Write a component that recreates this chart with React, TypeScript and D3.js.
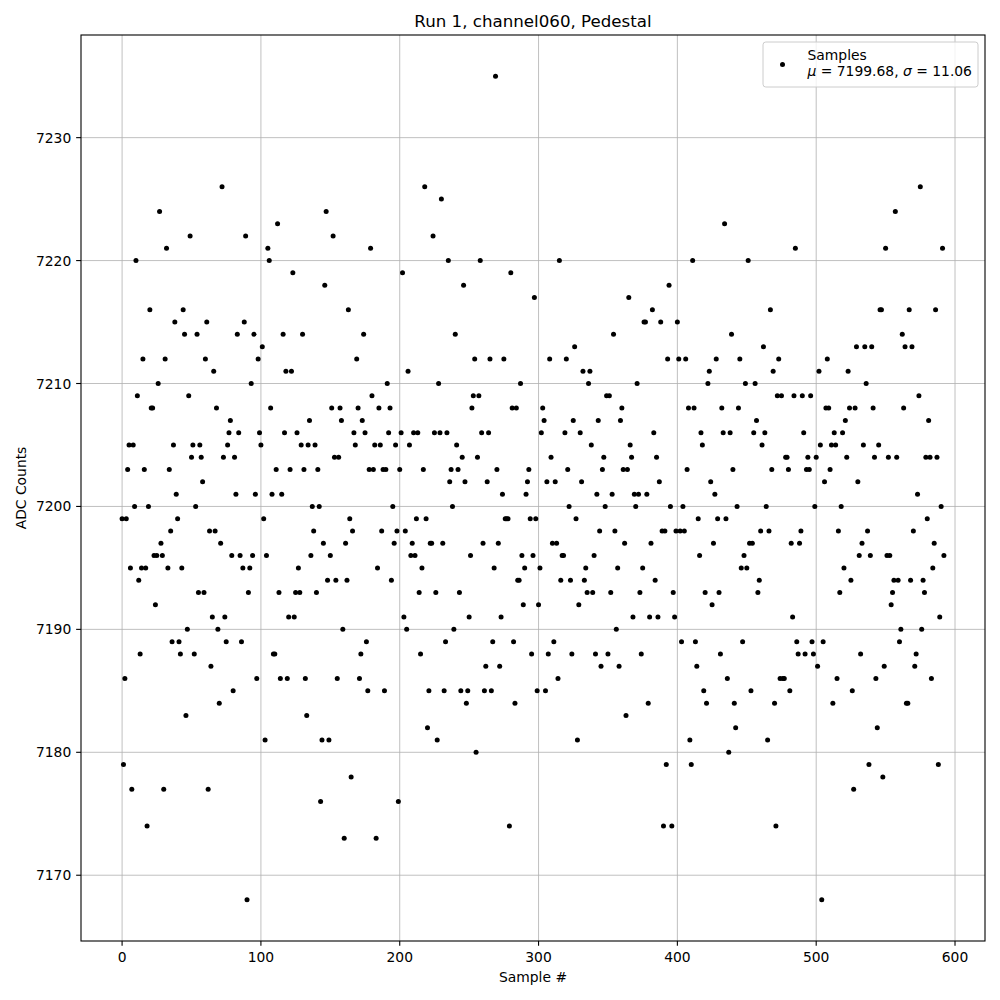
import React from "react";
import * as d3 from "d3";

// ADC counts for each sample (index = sample #)
const adcCounts: number[] = [
  7199,7179,7186,7199,7203,7205,7195,7177,7205,7200,
  7220,7209,7194,7188,7195,7212,7203,7195,7174,7200,
  7216,7208,7208,7196,7192,7196,7210,7224,7197,7196,
  7177,7212,7221,7195,7203,7198,7189,7205,7215,7201,
  7199,7189,7188,7195,7216,7214,7183,7190,
  7209,7222,7204,7205,7188,7200,7214,7193,7205,7204,7202,7193,7212,7215,7177,7198,7187,7191,7211,7198,
  7208,7190,7184,7197,7226,7204,7191,7189,7205,7206,7207,7196,7185,7204,7201,7214,7206,7196,7189,7195,
  7215,7222,7168,7193,7195,7210,7196,7214,7201,
  7186,7212,7206,7205,7213,7199,7181,7196,7221,7220,
  7208,7201,7188,7188,7203,7223,7193,7186,7201,7214,
  7206,7211,7186,7191,7203,7211,7219,7191,7193,7206,
  7195,7193,7205,7214,7203,7186,7183,7205,7207,7196,
  7200,7198,7205,7193,7203,7200,7176,7181,7197,7218,
  7224,7194,
  7181,7196,7208,7222,7204,7194,7186,7204,7208,7207,7190,7173,7197,7194,7216,7199,7178,7198,7206,7205,
  7212,7208,7186,7188,7207,7214,7206,7189,7185,7203,7221,7209,7203,7205,7173,7195,7208,7205,7198,7203,
  7185,7203,7210,7206,7208,7194,7200,7197,
  7205,7198,7176,7203,7206,7219,7191,7198,7190,7211,
  7205,7196,7197,7206,7196,7199,7206,7193,7188,7195,
  7203,7226,7199,7182,7185,7197,7197,7222,7206,7193,
  7181,7210,7206,7225,7197,7185,7189,7206,7220,7202,
  7203,7200,7190,7214,7205,7203,7193,7185,7204,7218,
  7202,7184,
  7185,7191,7196,7208,7209,7212,7180,7204,7209,7220,
  7206,7197,7185,7187,7202,7206,7212,7185,7189,7195,
  7235,7203,7197,7187,7191,7201,7212,7199,7199,7199,
  7174,7219,7208,7189,7184,7208,7194,7194,7210,7196,
  7192,7195,7201,7202,7203,7199,7188,7196,7217,7199,
  7185,7192,7195,7206,7208,7207,7185,7202,7188,7212,
  7204,7197,7189,7202,7197,7186,7220,7194,7196,7196,
  7206,7212,7203,7200,7194,7188,7207,7213,7199,7181,
  7192,7206,7202,7211,7194,7195,7193,7210,7211,7205,
  7193,7196,7188,7201,7207,7198,7187,7203,7204,7200,
  7209,
  7188,7209,7193,7201,7214,7198,7190,7195,7187,7207,
  7208,7203,7197,7183,7203,7217,7205,7204,7191,7201,
  7200,7210,7201,7193,7188,7195,7215,7215,7201,7184,
  7191,7197,7216,7206,7194,7204,7191,7202,7215,7198,
  7174,7198,7179,7212,7218,7200,7174,7193,7191,7198,
  7215,
  7212,7198,7189,7200,7198,7212,7203,7208,7181,7179,
  7220,7208,7189,7187,7199,7196,7206,7205,7185,7193,
  7184,7210,7211,7202,7192,7197,7201,7212,7199,7193,
  7188,7208,7206,7223,7199,7186,7180,7206,7214,7203,
  7184,7182,7200,7208,7212,7195,7189,7196,7210,7195,
  7220,
  7197,7185,7197,7206,7210,7207,7193,7194,7198,7205,
  7213,7206,7200,7181,7198,7216,7203,7211,7184,7174,
  7209,7212,7186,7209,7186,7186,7204,7204,7203,7185,
  7197,7191,7209,7221,7189,7188,7197,7198,7209,7206,
  7188,7203,7204,7203,7209,7189,7188,7200,7204,
  7187,7211,7205,7168,7189,7202,7208,7212,7208,7203,
  7205,7184,7206,7205,7186,7198,7193,7200,7206,7195,
  7207,7204,7211,7208,7194,7185,7177,7208,7213,7202,
  7196,7188,7197,7205,7213,7210,7198,7179,7196,7213,
  7208,7204,7186,7182,7205,7216,7216,7178,7187,7221,
  7196,7204,
  7196,7192,7193,7194,7224,7204,7194,7189,7190,7214,
  7208,7213,7184,7184,7216,7194,7213,7198,7187,7188,
  7201,7209,7226,7190,7194,7193,7204,7199,7207,7204,
  7186,7195,7197,7216,7204,7179,7191,7200,7221,7196,
];

const xTicks: number[] = [0, 100, 200, 300, 400, 500, 600];
const yTicks: number[] = [7170, 7180, 7190, 7200, 7210, 7220, 7230];

const titleText = "Run 1, channel060, Pedestal";
const xLabel = "Sample #";
const yLabel = "ADC Counts";
const legendLabel = "Samples";
const legendMu = "7199.68";
const legendSigma = "11.06";

const W = 1000;
const H = 1000;
const L = 81;
const R = 985;
const T = 35;
const B = 941;
const FONT = "DejaVu Sans, sans-serif";
const FS = 13.89;

export default function App() {
  const n = adcCounts.length;
  const xMin = 0;
  const xMax = n - 1;
  const xPad = (xMax - xMin) * 0.05;
  const yMin = d3.min(adcCounts) as number;
  const yMax = d3.max(adcCounts) as number;
  const yPad = (yMax - yMin) * 0.05;

  const x = d3.scaleLinear().domain([xMin - xPad, xMax + xPad]).range([L, R]);
  const y = d3.scaleLinear().domain([yMin - yPad, yMax + yPad]).range([B, T]);

  const tickLen = 4.86;
  const gridColor = "#b0b0b0";
  const dotR = 2.5;

  return (
    <svg width={W} height={H} style={{ display: "block", position: "absolute", left: 0, top: 0 }} fontFamily={FONT}>
      <rect x={0} y={0} width={W} height={H} fill="#ffffff" />
      {/* grid */}
      {xTicks.map((t) => (
        <line key={"gx" + t} x1={x(t)} x2={x(t)} y1={T} y2={B} stroke={gridColor} strokeWidth={0.8} />
      ))}
      {yTicks.map((t) => (
        <line key={"gy" + t} x1={L} x2={R} y1={y(t)} y2={y(t)} stroke={gridColor} strokeWidth={0.8} />
      ))}
      {/* points */}
      {adcCounts.map((v, i) => (
        <circle key={i} cx={x(i)} cy={y(v)} r={dotR} fill="#000000" />
      ))}
      {/* spines */}
      <rect x={L} y={T} width={R - L} height={B - T} fill="none" stroke="#000000" strokeWidth={1.1} />
      {/* x ticks */}
      {xTicks.map((t) => (
        <g key={"xt" + t}>
          <line x1={x(t)} x2={x(t)} y1={B} y2={B + tickLen} stroke="#000" strokeWidth={1.1} />
          <text x={x(t)} y={B + 2 * tickLen + 11} textAnchor="middle" fontSize={FS} fill="#000">
            {t}
          </text>
        </g>
      ))}
      {/* y ticks */}
      {yTicks.map((t) => (
        <g key={"yt" + t}>
          <line x1={L - tickLen} x2={L} y1={y(t)} y2={y(t)} stroke="#000" strokeWidth={1.1} />
          <text x={L - 2 * tickLen} y={y(t) + 5} textAnchor="end" fontSize={FS} fill="#000">
            {t}
          </text>
        </g>
      ))}
      {/* labels */}
      <text x={(L + R) / 2} y={26.5} textAnchor="middle" fontSize={16.67} fill="#000">
        {titleText}
      </text>
      <text x={(L + R) / 2} y={982} textAnchor="middle" fontSize={FS} fill="#000">
        {xLabel}
      </text>
      <text
        transform={`translate(26, ${(T + B) / 2}) rotate(-90)`}
        textAnchor="middle"
        fontSize={FS}
        fill="#000"
      >
        {yLabel}
      </text>
      {/* legend */}
      <g>
        <rect x={763} y={42} width={215} height={45} rx={2.8} ry={2.8} fill="#ffffff" fillOpacity={0.8} stroke="#cccccc" strokeWidth={1} />
        <circle cx={782.5} cy={64.5} r={dotR} fill="#000" />
        <text x={807.5} y={59.5} fontSize={FS} fill="#000">
          {legendLabel}
        </text>
        <text x={807.5} y={76} fontSize={FS} fill="#000">
          <tspan fontStyle="italic">μ</tspan>
          <tspan>{" = " + legendMu + ", "}</tspan>
          <tspan fontStyle="italic">σ</tspan>
          <tspan>{" = " + legendSigma}</tspan>
        </text>
      </g>
    </svg>
  );
}
